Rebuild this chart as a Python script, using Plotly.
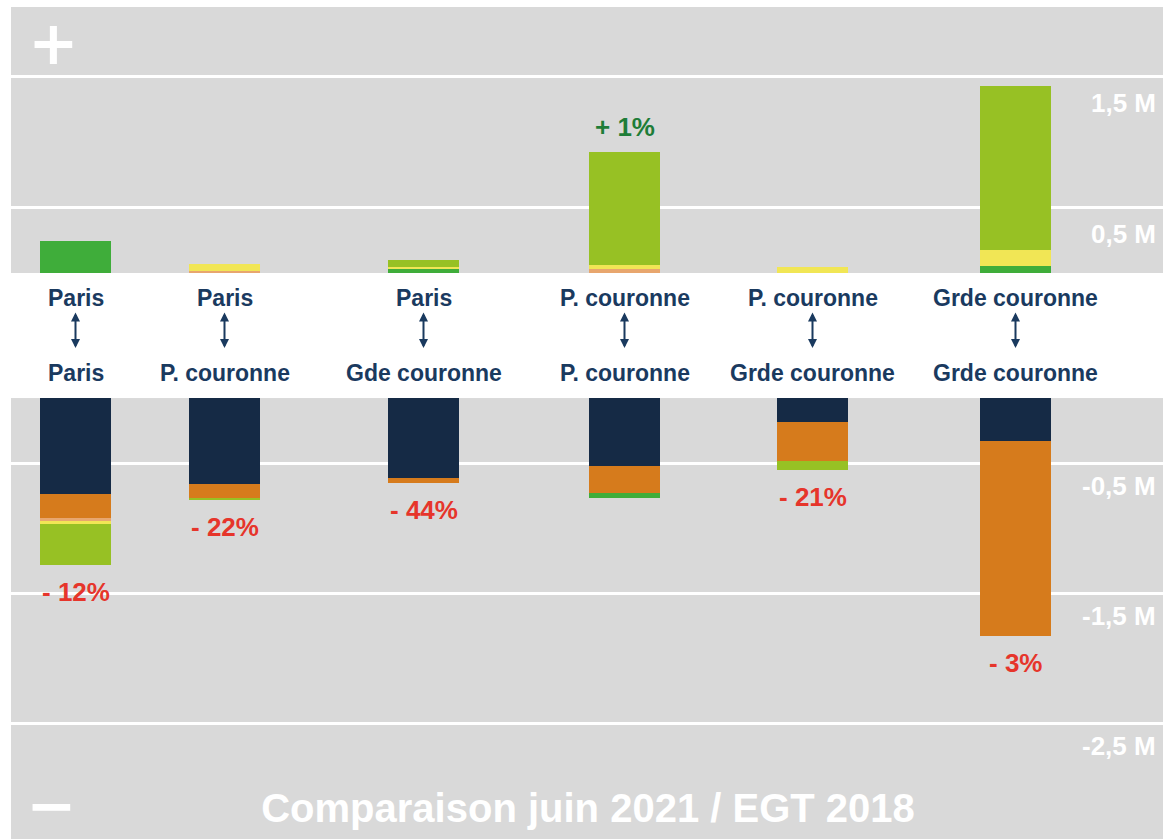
import plotly.graph_objects as go

# ---------------- data ----------------
origin = ["Paris", "Paris", "Paris", "P. couronne", "P. couronne", "Grde couronne"]
destination = ["Paris", "P. couronne", "Gde couronne", "P. couronne", "Grde couronne", "Grde couronne"]
change_labels = ["- 12%", "- 22%", "- 44%", "+ 1%", "- 21%", "- 3%"]

# gains (millions), stacked upward from the break
gain_peach = [0.0, 0.017, 0.0, 0.034, 0.0, 0.0]
gain_green = [0.245, 0.0, 0.027, 0.0, 0.0, 0.054]
gain_yellow = [0.0, 0.055, 0.019, 0.025, 0.046, 0.12]
gain_lightgreen = [0.0, 0.0, 0.051, 0.868, 0.0, 1.26]

# losses (millions), stacked downward from the break
loss_navy = [-0.736, -0.664, -0.613, -0.523, -0.182, -0.331]
loss_orange = [-0.185, -0.108, -0.038, -0.205, -0.302, -1.50]
loss_peach = [-0.025, 0.0, 0.0, 0.0, 0.0, 0.0]
loss_green = [0.0, 0.0, 0.0, -0.038, 0.0, 0.0]
loss_yellow = [-0.02, 0.0, 0.0, 0.0, 0.0, 0.0]
loss_lightgreen = [-0.318, -0.013, 0.0, 0.0, -0.069, 0.0]

pos_ticks = [0.5, 1.5]
pos_tick_text = ["0,5 M", "1,5 M"]
neg_ticks = [-0.5, -1.5, -2.5]
neg_tick_text = ["-0,5 M", "-1,5 M", "-2,5 M"]

title_text = "Comparaison juin 2021 / EGT 2018"

# ---------------- layout helpers (positions / styles) ----------------
slot_x = [0, 0.745, 1.74, 2.745, 3.685, 4.7]
bar_w = 0.355
NAVY = "#152a45"
ORANGE = "#d67b1c"
PEACH = "#e8a66e"
GREEN = "#3fad3a"
YELLOW = "#f1e655"
LIGHTGREEN = "#97c124"
LABEL = "#1a3a5f"
GREY = "#d9d9d9"
FONT = "Liberation Sans"
SIGN_FONT = "DejaVu Sans"

fig = go.Figure()

def add(vals, color, name, yaxis):
    fig.add_trace(go.Bar(
        x=slot_x, y=vals, width=bar_w, name=name, yaxis=yaxis,
        marker=dict(color=color, line=dict(width=0)),
        showlegend=False, hoverinfo="skip",
    ))

add(gain_peach, PEACH, "gain peach", "y")
add(gain_green, GREEN, "gain green", "y")
add(gain_yellow, YELLOW, "gain yellow", "y")
add(gain_lightgreen, LIGHTGREEN, "gain lightgreen", "y")

add(loss_navy, NAVY, "loss navy", "y2")
add(loss_orange, ORANGE, "loss orange", "y2")
add(loss_peach, PEACH, "loss peach", "y2")
add(loss_green, GREEN, "loss green", "y2")
add(loss_yellow, YELLOW, "loss yellow", "y2")
add(loss_lightgreen, LIGHTGREEN, "loss lightgreen", "y2")

# "+" and "−" markers in the corners of each half
fig.add_trace(go.Scatter(x=[-0.11], y=[1.713], yaxis="y", mode="text", text=["<b>+</b>"],
                         textfont=dict(family=SIGN_FONT, size=60, color="white"),
                         cliponaxis=False, showlegend=False, hoverinfo="skip"))
fig.add_trace(go.Scatter(x=[-0.12], y=[-3.175], yaxis="y2", mode="text", text=["<b>−</b>"],
                         textfont=dict(family=SIGN_FONT, size=60, color="white"),
                         cliponaxis=False, showlegend=False, hoverinfo="skip"))

annotations = []

# percentage labels at the end of each stack
for i in range(len(slot_x)):
    up = gain_peach[i] + gain_green[i] + gain_yellow[i] + gain_lightgreen[i]
    down = (loss_navy[i] + loss_orange[i] + loss_peach[i] + loss_green[i]
            + loss_yellow[i] + loss_lightgreen[i])
    if change_labels[i].startswith("+"):
        annotations.append(dict(x=slot_x[i], y=up, xref="x", yref="y",
                                text="<b>" + change_labels[i] + "</b>", showarrow=False,
                                yanchor="middle", yshift=25,
                                font=dict(family=FONT, size=26, color="#1e7d38")))
    else:
        annotations.append(dict(x=slot_x[i], y=down, xref="x", yref="y2",
                                text="<b>" + change_labels[i] + "</b>", showarrow=False,
                                yanchor="middle", yshift=-27,
                                font=dict(family=FONT, size=26, color="#e6352b")))

# category labels in the white band
for i in range(len(slot_x)):
    annotations.append(dict(x=slot_x[i], y=0.6502, xref="x", yref="paper",
                            text="<b>" + origin[i] + "</b>", showarrow=False,
                            font=dict(family=FONT, size=23, color=LABEL)))
    annotations.append(dict(x=slot_x[i], y=0.5601, xref="x", yref="paper",
                            text="<b>" + destination[i] + "</b>", showarrow=False,
                            font=dict(family=FONT, size=23, color=LABEL)))
    annotations.append(dict(x=slot_x[i], y=0.5901, xref="x", yref="paper",
                            ax=0, ay=-37, text="", showarrow=True,
                            arrowside="end+start", arrowhead=2, arrowsize=0.9,
                            arrowwidth=2, arrowcolor=LABEL))

# value labels (below each gridline, right aligned)
for v, t in zip(pos_ticks, pos_tick_text):
    annotations.append(dict(x=0.9957, y=v, xref="paper", yref="y", text="<b>" + t + "</b>",
                            showarrow=False, xanchor="right", yanchor="middle", yshift=-26,
                            font=dict(family=FONT, size=26, color="white")))
for v, t in zip(neg_ticks, neg_tick_text):
    annotations.append(dict(x=0.9957, y=v, xref="paper", yref="y2", text="<b>" + t + "</b>",
                            showarrow=False, xanchor="right", yanchor="middle", yshift=-23,
                            font=dict(family=FONT, size=26, color="white")))

fig.update_layout(
    barmode="relative",
    paper_bgcolor="white",
    plot_bgcolor=GREY,
    margin=dict(l=11, r=0, t=7, b=0),
    title=dict(text="<b>" + title_text + "</b>", x=0.5056, xanchor="center",
               y=0.037, yanchor="middle", yref="container",
               font=dict(family=FONT, size=40, color="white")),
    xaxis=dict(range=[-0.3225, 5.4375], visible=False, fixedrange=True),
    yaxis=dict(domain=[0.6803, 1.0], range=[0, 2.035], tickvals=pos_ticks,
               showticklabels=False, gridcolor="white", gridwidth=3,
               zeroline=False, showline=False, fixedrange=True),
    yaxis2=dict(domain=[0.0, 0.530], range=[-3.392, 0], tickvals=neg_ticks,
                showticklabels=False, gridcolor="white", gridwidth=3,
                zeroline=False, showline=False, fixedrange=True),
    annotations=annotations,
    bargap=0,
)

fig.write_html(
    "out.html",
    config={"displayModeBar": False},
    post_script=(
        "document.documentElement.style.margin='0';"
        "document.body.style.margin='0';"
        "document.body.style.overflow='hidden';"
        "var gd=document.getElementById('{plot_id}');"
        "gd.style.width='100vw';gd.style.height='100vh';"
        "gd.parentElement.style.width='100vw';gd.parentElement.style.height='100vh';"
        "Plotly.Plots.resize(gd);"
    ),
)
